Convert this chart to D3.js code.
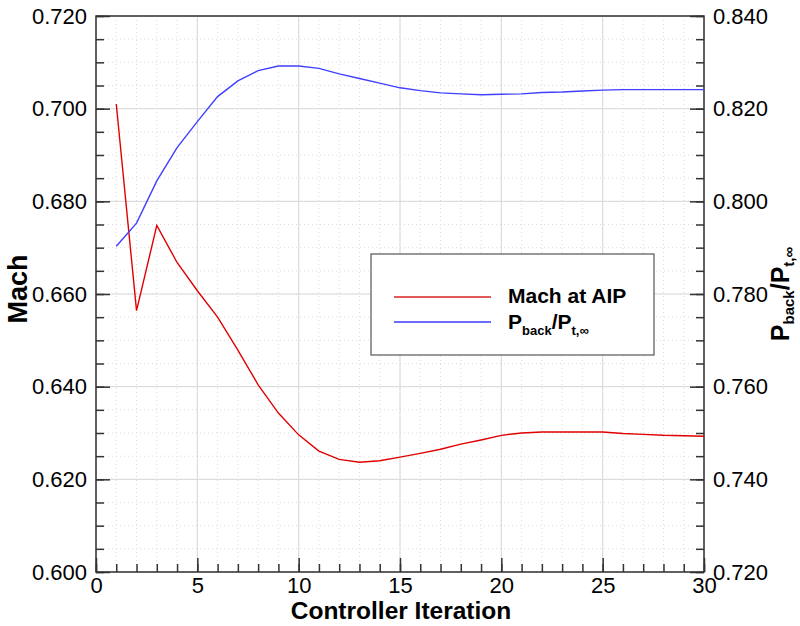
<!DOCTYPE html>
<html>
<head>
<meta charset="utf-8">
<script src="https://cdn.jsdelivr.net/npm/d3@7"></script>
<style>
  body { margin: 0; background: #fff; }
  svg text { font-family: "Liberation Sans", Arial, sans-serif; fill: #000; }
</style>
</head>
<body>
<div id="chart"></div>
<script>
// data
var iterations = [1, 2, 3, 4, 5, 6, 7, 8, 9, 10, 11, 12, 13, 14, 15,
    16, 17, 18, 19, 20, 21, 22, 23, 24, 25, 26, 27, 28, 29, 30];
var machAtAip = [0.7010, 0.6564, 0.6748, 0.6668, 0.6607, 0.6550, 0.6479, 0.6404, 0.6343, 0.6296,
    0.6261, 0.6243, 0.6237, 0.6240, 0.6248, 0.6256, 0.6265, 0.6276, 0.6285, 0.6295,
    0.6300, 0.6302, 0.6302, 0.6302, 0.6302, 0.6299, 0.6297, 0.6295, 0.6294, 0.6293];
var pressureRatio = [0.7903, 0.7953, 0.8044, 0.8116, 0.8172, 0.8226, 0.8260, 0.8282, 0.8292, 0.8292,
    0.8287, 0.8275, 0.8265, 0.8255, 0.8245, 0.8239, 0.8234, 0.8232, 0.8230, 0.8231,
    0.8232, 0.8235, 0.8236, 0.8238, 0.8240, 0.8241, 0.8241, 0.8241, 0.8241, 0.8241];
var xTicks = [0, 5, 10, 15, 20, 25, 30];
var machTicks = [0.600, 0.620, 0.640, 0.660, 0.680, 0.700, 0.720];
var ratioTicks = [0.720, 0.740, 0.760, 0.780, 0.800, 0.820, 0.840];
var legendLabels = ["Mach at AIP", "P_back/P_t,∞"];

// set the dimensions and margins
var margin = { top: 16, right: 96, bottom: 54, left: 96 },
    width = 800 - margin.left - margin.right,
    height = 626 - margin.top - margin.bottom;

var svg = d3.select("#chart")
    .append("svg")
    .attr("width", width + margin.left + margin.right)
    .attr("height", height + margin.top + margin.bottom)
    .append("g")
    .attr("transform", "translate(" + margin.left + "," + margin.top + ")");

var x = d3.scaleLinear().domain([0, 30]).range([0, width]);
var yL = d3.scaleLinear().domain([0.600, 0.720]).range([height, 0]);
var yR = d3.scaleLinear().domain([0.720, 0.840]).range([height, 0]);

var xMinor = d3.range(0, 31, 1);
var yMinor = d3.range(0, 25).map(function (i) { return 0.600 + i * 0.005; });
var yMinorR = d3.range(0, 25).map(function (i) { return 0.720 + i * 0.005; });

// minor dotted grid
svg.append("g").selectAll("line.vminor")
    .data(xMinor).enter().append("line")
    .attr("x1", function (d) { return x(d); }).attr("x2", function (d) { return x(d); })
    .attr("y1", 0).attr("y2", height)
    .attr("stroke", "#dcdcdc").attr("stroke-dasharray", "1,3");
svg.append("g").selectAll("line.hminor")
    .data(yMinor).enter().append("line")
    .attr("y1", function (d) { return yL(d); }).attr("y2", function (d) { return yL(d); })
    .attr("x1", 0).attr("x2", width)
    .attr("stroke", "#dcdcdc").attr("stroke-dasharray", "1,3");

// major grid
svg.append("g").selectAll("line")
    .data(xTicks).enter().append("line")
    .attr("x1", function (d) { return x(d); }).attr("x2", function (d) { return x(d); })
    .attr("y1", 0).attr("y2", height)
    .attr("stroke", "#d8d8d8");
svg.append("g").selectAll("line")
    .data(machTicks).enter().append("line")
    .attr("y1", function (d) { return yL(d); }).attr("y2", function (d) { return yL(d); })
    .attr("x1", 0).attr("x2", width)
    .attr("stroke", "#d8d8d8");

// axes: minor ticks first, then the major ones with labels
function styleAxis(g) {
    g.select(".domain").remove();
    g.selectAll("line").attr("stroke", "#333").attr("stroke-width", 1.5);
    g.selectAll("text").style("font-size", "22px").attr("fill", "#000");
}

svg.append("g").attr("transform", "translate(0," + height + ")")
    .call(d3.axisBottom(x).tickValues(xMinor).tickSize(-8).tickFormat(""))
    .call(styleAxis);
svg.append("g").attr("transform", "translate(0," + height + ")")
    .call(d3.axisBottom(x).tickValues(xTicks).tickSize(-14).tickPadding(5).tickFormat(d3.format("d")))
    .call(styleAxis);

svg.append("g")
    .call(d3.axisLeft(yL).tickValues(yMinor).tickSize(-8).tickFormat(""))
    .call(styleAxis);
svg.append("g")
    .call(d3.axisLeft(yL).tickValues(machTicks).tickSize(-14).tickPadding(9).tickFormat(d3.format(".3f")))
    .call(styleAxis);

svg.append("g").attr("transform", "translate(" + width + ",0)")
    .call(d3.axisRight(yR).tickValues(yMinorR).tickSize(-8).tickFormat(""))
    .call(styleAxis);
svg.append("g").attr("transform", "translate(" + width + ",0)")
    .call(d3.axisRight(yR).tickValues(ratioTicks).tickSize(-14).tickPadding(9).tickFormat(d3.format(".3f")))
    .call(styleAxis);

// frame
svg.append("rect")
    .attr("width", width).attr("height", height)
    .attr("fill", "none").attr("stroke", "#333").attr("stroke-width", 1.5);

// the lines
svg.append("path")
    .datum(iterations)
    .attr("fill", "none")
    .attr("stroke", "#e00000")
    .attr("stroke-width", 1.4)
    .attr("d", d3.line()
        .x(function (d) { return x(d); })
        .y(function (d, i) { return yL(machAtAip[i]); }));

svg.append("path")
    .datum(iterations)
    .attr("fill", "none")
    .attr("stroke", "#3f3fff")
    .attr("stroke-width", 1.4)
    .attr("d", d3.line()
        .x(function (d) { return x(d); })
        .y(function (d, i) { return yR(pressureRatio[i]); }));

// axis titles
svg.append("text")
    .attr("x", 305).attr("y", 603)
    .attr("text-anchor", "middle")
    .style("font-size", "24.5px").style("font-weight", "bold")
    .text("Controller Iteration");

svg.append("text")
    .attr("transform", "translate(-69," + 273 + ") rotate(-90)")
    .attr("text-anchor", "middle")
    .style("font-size", "27px").style("font-weight", "bold")
    .text("Mach");

// P_back / P_t,inf with subscripts
function subText(sel, label, big, small, shift) {
    var parts = label.split("/");
    parts.forEach(function (p, k) {
        var bits = p.split("_");
        sel.append("tspan").style("font-size", big + "px")
            .attr("dy", k > 0 ? -shift : null)
            .text((k > 0 ? "/" : "") + bits[0]);
        sel.append("tspan").style("font-size", small + "px")
            .attr("dy", shift)
            .text(bits[1]);
    });
}

var rTitle = svg.append("text")
    .attr("transform", "translate(" + (width + 85) + "," + 278 + ") rotate(-90)")
    .attr("text-anchor", "middle")
    .style("font-weight", "bold");
subText(rTitle, legendLabels[1], 25, 15, 5);

// legend
var legend = svg.append("g").attr("transform", "translate(275,238)");
legend.append("rect")
    .attr("width", 283).attr("height", 101)
    .attr("fill", "#fff").attr("stroke", "#555").attr("stroke-width", 1.2);

var legendColors = ["#e25a5a", "#6a6aff"];
var legendRows = [43, 68];
legendRows.forEach(function (ly, i) {
    legend.append("line")
        .attr("x1", 23).attr("x2", 120)
        .attr("y1", ly).attr("y2", ly)
        .attr("stroke", legendColors[i]).attr("stroke-width", 2);
});

legend.append("text")
    .attr("x", 137).attr("y", 49)
    .style("font-size", "21px").style("font-weight", "bold")
    .text(legendLabels[0]);

var lt = legend.append("text")
    .attr("x", 137).attr("y", 75)
    .style("font-weight", "bold");
subText(lt, legendLabels[1], 21, 13, 6);
</script>
</body>
</html>
